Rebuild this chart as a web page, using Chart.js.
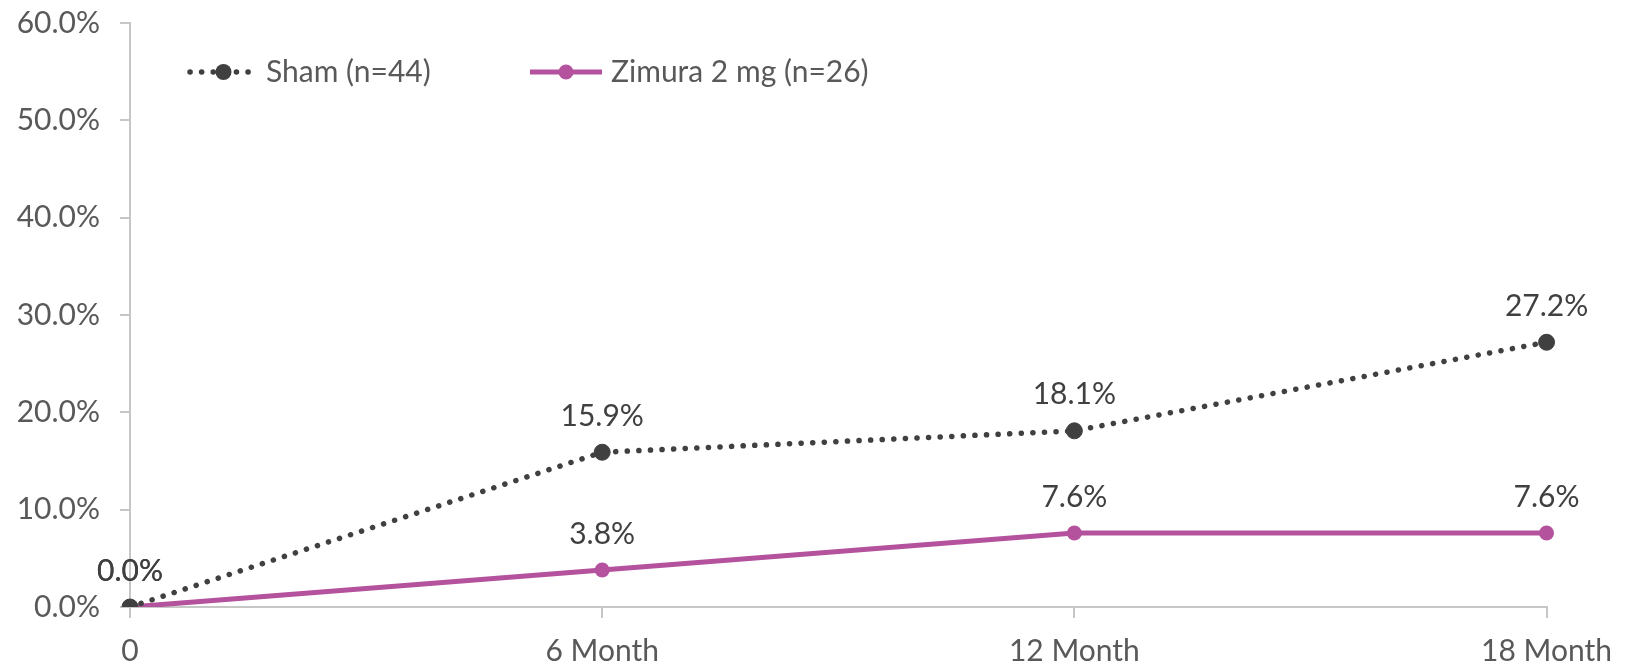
<!DOCTYPE html>
<html>
<head>
<meta charset="utf-8">
<script src="https://cdn.jsdelivr.net/npm/chart.js@4.4.1/dist/chart.umd.min.js"></script>
<style>
  html, body { margin: 0; padding: 0; background: #fff; }
  #wrap { width: 1627px; height: 667px; }
</style>
</head>
<body>
<div id="wrap"><canvas id="chart" width="1627" height="667"></canvas></div>
<script>
// Data
const categories = ['0', '6 Month', '12 Month', '18 Month'];
const shamValues = [0.0, 15.9, 18.1, 27.2];
const zimuraValues = [0.0, 3.8, 7.6, 7.6];
const yTicks = [0, 10, 20, 30, 40, 50, 60];
const seriesNames = ['Sham (n=44)', 'Zimura 2 mg (n=26)'];

const FONT = 'Lato, "Open Sans", sans-serif';
const SHAM_COLOR = '#404040';
const ZIMURA_COLOR = '#b4529d';
const AXIS_COLOR = '#c6c6c6';
const TICK_TEXT = '#595959';

const pct = v => v.toFixed(1) + '%';

// Value labels above each point (Excel style)
const valueLabels = {
  id: 'valueLabels',
  afterDatasetsDraw(chart) {
    const ctx = chart.ctx;
    ctx.save();
    ctx.font = '30px ' + FONT;
    ctx.fillStyle = '#404040';
    ctx.textAlign = 'center';
    ctx.textBaseline = 'middle';
    chart.data.datasets.forEach((ds, i) => {
      chart.getDatasetMeta(i).data.forEach((pt, j) => {
        ctx.fillText(pct(ds.data[j]), pt.x, pt.y - 36);
      });
    });
    ctx.restore();
  }
};

// Legend drawn inside the plot, line + marker like Excel
const inlineLegend = {
  id: 'inlineLegend',
  afterDraw(chart) {
    const ctx = chart.ctx;
    const y = 72;
    const items = [
      { x0: 190, x1: 257, text: seriesNames[0], ds: chart.data.datasets[0] },
      { x0: 530, x1: 602, text: seriesNames[1], ds: chart.data.datasets[1] }
    ];
    ctx.save();
    items.forEach(it => {
      const ds = it.ds;
      ctx.beginPath();
      ctx.strokeStyle = ds.borderColor;
      ctx.lineWidth = ds.borderWidth;
      ctx.lineCap = ds.borderCapStyle || 'butt';
      ctx.setLineDash(ds.borderDash || []);
      ctx.moveTo(it.x0, y);
      ctx.lineTo(it.x1, y);
      ctx.stroke();
      ctx.setLineDash([]);
      ctx.beginPath();
      ctx.fillStyle = ds.pointBackgroundColor;
      ctx.arc((it.x0 + it.x1) / 2, y, ds.pointRadius, 0, Math.PI * 2);
      ctx.fill();
      ctx.font = '30px ' + FONT;
      ctx.fillStyle = TICK_TEXT;
      ctx.textAlign = 'left';
      ctx.textBaseline = 'middle';
      ctx.fillText(it.text, it.x1 + 9, y);
    });
    ctx.restore();
  }
};

new Chart(document.getElementById('chart'), {
  type: 'line',
  data: {
    labels: categories,
    datasets: [
      {
        label: seriesNames[0],
        data: shamValues,
        borderColor: SHAM_COLOR,
        borderWidth: 5.5,
        borderDash: [0.1, 11.5],
        borderCapStyle: 'round',
        pointRadius: 8,
        pointBackgroundColor: SHAM_COLOR,
        pointBorderColor: SHAM_COLOR,
        pointBorderWidth: 1,
        tension: 0
      },
      {
        label: seriesNames[1],
        data: zimuraValues,
        borderColor: ZIMURA_COLOR,
        borderWidth: 5,
        pointRadius: 7.5,
        pointBackgroundColor: ZIMURA_COLOR,
        pointBorderColor: ZIMURA_COLOR,
        pointBorderWidth: 0,
        tension: 0
      }
    ]
  },
  options: {
    responsive: false,
    animation: false,
    layout: { padding: { top: 23, right: 79, left: 0, bottom: 0 } },
    plugins: {
      legend: { display: false },
      tooltip: { enabled: false }
    },
    scales: {
      x: {
        offset: false,
        afterFit: s => { s.height = 60; },
        grid: { drawOnChartArea: false, drawTicks: true, tickLength: 11, color: AXIS_COLOR, lineWidth: 2 },
        border: { color: AXIS_COLOR, width: 2 },
        ticks: { color: TICK_TEXT, font: { family: FONT, size: 30 }, padding: 15, maxRotation: 0 }
      },
      y: {
        min: yTicks[0],
        max: yTicks[yTicks.length - 1],
        afterFit: s => { s.width = 130; s.paddingTop = 0; s.paddingBottom = 0; },
        afterBuildTicks: s => { s.ticks = yTicks.map(v => ({ value: v })); },
        grid: { drawOnChartArea: false, drawTicks: true, tickLength: 10, color: AXIS_COLOR, lineWidth: 2 },
        border: { color: AXIS_COLOR, width: 2 },
        ticks: { color: TICK_TEXT, font: { family: FONT, size: 30 }, padding: 20, callback: v => pct(v) }
      }
    }
  },
  plugins: [valueLabels, inlineLegend]
});
</script>
</body>
</html>
